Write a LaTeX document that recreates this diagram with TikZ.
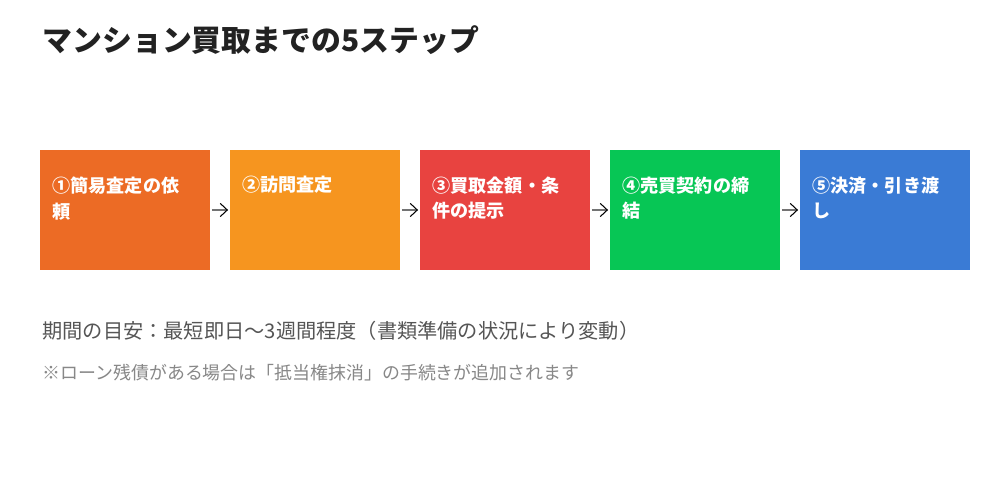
\documentclass[tikz,border=0pt]{standalone}
\usepackage{fontspec}
\setmainfont{Noto Sans CJK JP}
\usepackage{tikz}
\usetikzlibrary{positioning,arrows.meta}

\definecolor{titlegray}{HTML}{222222}
\definecolor{notegray}{HTML}{555555}
\definecolor{subgray}{HTML}{888888}
\definecolor{stepA}{HTML}{EC6B25}
\definecolor{stepB}{HTML}{F6951F}
\definecolor{stepC}{HTML}{E84340}
\definecolor{stepD}{HTML}{07C655}
\definecolor{stepE}{HTML}{3A7BD5}

\begin{document}
\begin{tikzpicture}[line width=0.6pt]
\tikzset{
    stepbox/.style={minimum width=3.4cm, minimum height=2.4cm, inner sep=0pt, outer sep=0pt, draw=none},
    steplabel/.style={inner sep=0pt, align=left, text=white,
        font=\fontsize{10.3}{14.7}\selectfont\bfseries},
    flow/.style={-{Straight Barb[length=4pt,width=7.5pt,black]}, black!55,
        shorten <=1.1pt, shorten >=1.1pt},
}
% Canvas
\fill[white] (0,0) rectangle (20,-10);
\useasboundingbox (0,0) rectangle (20,-10);
% Title
\node
[
    anchor=west,
    inner sep=0pt,
    text=titlegray,
    font=\fontsize{17}{20}\selectfont\bfseries
] (title) at (0.84,-0.8) {マンション買取までの5ステップ};
% Step boxes
\node[stepbox, fill=stepA] (s1) at (2.5,-4.2) {};
\node[stepbox, fill=stepB, right=0.4cm of s1] (s2) {};
\node[stepbox, fill=stepC, right=0.4cm of s2] (s3) {};
\node[stepbox, fill=stepD, right=0.4cm of s3] (s4) {};
\node[stepbox, fill=stepE, right=0.4cm of s4] (s5) {};
% Box texts
\node[steplabel, below right=0.52cm and 0.24cm of s1.north west] (l1) {①簡易査定の依\\頼};
\node[steplabel, below right=0.52cm and 0.24cm of s2.north west] (l2) {②訪問査定};
\node[steplabel, below right=0.52cm and 0.24cm of s3.north west] (l3) {③買取金額・条\\件の提示};
\node[steplabel, below right=0.52cm and 0.24cm of s4.north west] (l4) {④売買契約の締\\結};
\node[steplabel, below right=0.52cm and 0.24cm of s5.north west] (l5) {⑤決済・引き渡\\し};
% Arrows
\draw[flow] (s1.east) -- (s2.west);
\draw[flow] (s2.east) -- (s3.west);
\draw[flow] (s3.east) -- (s4.west);
\draw[flow] (s4.east) -- (s5.west);
% Notes
\node
[
    anchor=west,
    inner sep=0pt,
    text=notegray,
    font=\fontsize{11.5}{14}\selectfont
] (period) at (0.84,-6.62) {期間の目安：最短即日〜3週間程度（書類準備の状況により変動）};
\node
[
    anchor=west,
    inner sep=0pt,
    text=subgray,
    font=\fontsize{10.2}{13}\selectfont
] (loan) at (0.84,-7.46) {※ローン残債がある場合は「抵当権抹消」の手続きが追加されます};
\end{tikzpicture}
\end{document}
